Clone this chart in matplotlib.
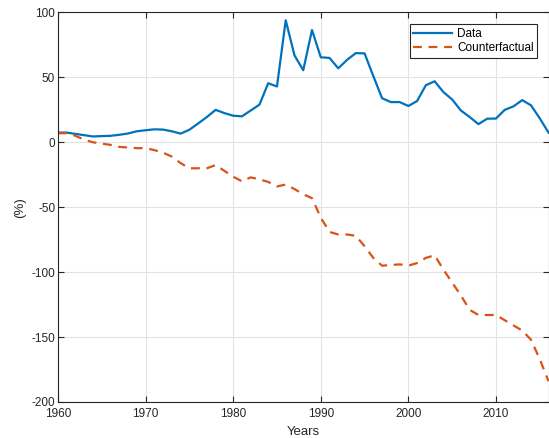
import matplotlib.pyplot as plt
import numpy as np

years = np.arange(1960, 2017)

data = [7.5, 7.5, 6.5, 5.5, 4.5, 4.8, 5.0, 5.8, 6.8, 8.5,
        9.3, 10.0, 9.8, 8.5, 6.7, 9.7, 14.5, 19.5, 25.0, 22.5,
        20.5, 20.0, 24.5, 29.0, 45.5, 43.0, 94.0, 67.0, 55.5, 86.5,
        65.5, 65.0, 57.0, 63.5, 68.7, 68.5, 51.0, 34.0, 31.0, 31.0,
        28.0, 31.8, 44.0, 47.0, 38.7, 33.0, 24.5, 19.5, 14.0, 18.2,
        18.3, 25.0, 27.7, 32.5, 28.5, 18.5, 7.5]

counterfactual = [7, 7, 5, 2, 0, -1, -2, -3.5, -4, -4.5,
                  -4.5, -6, -8, -11, -16, -20, -20, -20, -17.5, -22,
                  -26.5, -30, -27, -28.5, -30.5, -34, -32.5, -36, -40, -43,
                  -58, -69, -71, -71, -72, -80, -89, -95, -94.5, -94,
                  -95, -93, -89, -87, -98, -108, -118, -129, -133, -133,
                  -133, -137, -141, -145, -152, -167, -184]

plt.rcParams['font.family'] = ['Liberation Sans', 'DejaVu Sans']
plt.rcParams['axes.unicode_minus'] = False

fig = plt.figure(figsize=(5.49, 4.38), dpi=100)
ax = fig.add_axes([0.1056, 0.0822, 0.8935, 0.8893])

ax.plot(years, data, color='#0072BD', lw=1.6, label='Data')
ax.plot(years, counterfactual, color='#D95319', lw=1.6, ls=(0, (4, 3)), label='Counterfactual')

ax.set_xlim(1960, 2016)
ax.set_ylim(-200, 100)
ax.set_xticks([1960, 1970, 1980, 1990, 2000, 2010])
ax.set_yticks([-200, -150, -100, -50, 0, 50, 100])

ax.grid(True, color='#e3e3e3', lw=0.8)
ax.set_axisbelow(True)
ax.tick_params(direction='in', top=True, right=True, length=4, width=0.8,
               labelsize=8.5, colors='#262626', pad=2)
ax.tick_params(axis='x', pad=4)
for s in ax.spines.values():
    s.set_color('#262626')
    s.set_linewidth(0.8)

ax.set_xlabel('Years', fontsize=9.5, color='#262626', labelpad=5)
ax.set_ylabel('(%)', fontsize=9.5, color='#262626', labelpad=4)

leg = ax.legend(loc='upper right', bbox_to_anchor=(0.977, 0.97), borderaxespad=0,
                fontsize=8.5, fancybox=False, framealpha=1, edgecolor='#262626',
                handlelength=3.3, borderpad=0.3, labelspacing=0.2, handletextpad=0.4)
leg.get_frame().set_linewidth(0.8)

fig.savefig('out.png', dpi=100)
